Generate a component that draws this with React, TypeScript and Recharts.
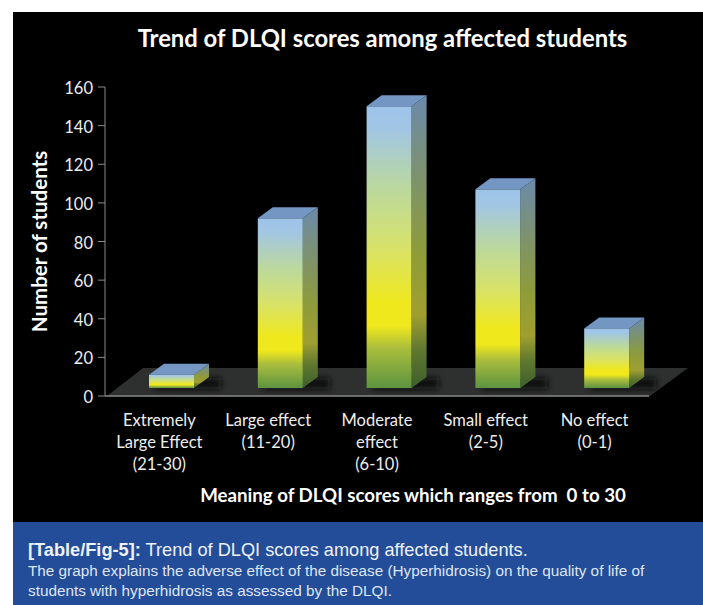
import React from 'react';
import { BarChart, Bar, XAxis, YAxis, ReferenceArea, Label } from 'recharts';

const categories = ['Extremely|Large Effect|(21-30)', 'Large effect|(11-20)', 'Moderate|effect|(6-10)', 'Small effect|(2-5)', 'No effect|(0-1)'];
const students = [11, 92, 150, 107, 35];
const yTicks = [0, 20, 40, 60, 80, 100, 120, 140, 160];
const title = 'Trend of DLQI scores among affected students';
const xTitle = 'Meaning of DLQI scores which ranges from \u00a00 to 30';
const yTitle = 'Number of students';

const data = categories.map((c, i) => ({ category: c, students: students[i] }));
const FONT = 'Lato, "Open Sans", sans-serif';

const DX = 15, DY = 11, LIFT = 8, SHIFT = 12;

const Bar3D = (props: any) => {
  const { x, y, width, height } = props;
  const l = x + SHIFT, r = l + width, b = y + height - LIFT;
  return (
    <g>
      <path d={`M${l + 6} ${b + 1} H${r + DX + 12} V${b - DY + 1} H${l + 6} Z`} fill="#101010" filter="url(#soft)" />
      <polygon points={`${r},${y} ${r + DX},${y - DY} ${r + DX},${b - DY} ${r},${b}`} fill="url(#sideGrad)" />
      <polygon points={`${l},${y} ${l + DX},${y - DY} ${r + DX},${y - DY} ${r},${y}`} fill="#7396c3" />
      <rect x={l} y={y} width={width} height={b - y} fill="url(#frontGrad)" />
    </g>
  );
};

const Floor = (props: any) => {
  const { x, y, width, height } = props;
  return (
    <polygon
      points={`${x + 2},${y + height} ${x + 38},${y} ${x + width + 39},${y} ${x + width + 1},${y + height}`}
      fill="#2e2f2f"
    />
  );
};

const CategoryTick = (props: any) => {
  const { x, y, payload } = props;
  const lines = String(payload.value).split('|');
  return (
    <text x={x} y={y} textAnchor="middle" fill="#eeeeee" fontFamily={FONT} fontSize={16.5}>
      {lines.map((t: string, i: number) => (
        <tspan key={i} x={x} dy={22}>{t}</tspan>
      ))}
    </text>
  );
};

const ValueTick = (props: any) => {
  const { x, y, payload } = props;
  return (
    <text x={x} y={y + 7} textAnchor="end" fill="#eeeeee" fontFamily={FONT} fontSize={16.5}>
      {payload.value}
    </text>
  );
};

export default function App() {
  return (
    <div style={{ position: 'absolute', left: 0, top: 0, width: 703, height: 605, background: '#fff', overflow: 'hidden' }}>
      <div style={{ position: 'absolute', left: 13, top: 12, width: 690, height: 510, background: '#000' }} />
      <div style={{ position: 'absolute', left: 13, top: 522, width: 690, height: 83, background: '#234c99' }} />
      <div style={{ position: 'absolute', left: 13, width: 739, top: 24, textAlign: 'center', color: '#fff', fontFamily: FONT, fontWeight: 700, fontSize: 23.8, lineHeight: '28px', whiteSpace: 'nowrap' }}>
        {title}
      </div>
      <div style={{ position: 'absolute', left: 0, top: 0 }}>
        <BarChart width={703} height={605} data={data} margin={{ top: 87, right: 54, bottom: 109, left: 45 }}>
          <defs>
            <linearGradient id="frontGrad" x1="0" y1="0" x2="0" y2="1">
              <stop offset="0" stopColor="#9dc3ea" />
              <stop offset="0.08" stopColor="#a2c6e4" />
              <stop offset="0.3" stopColor="#bcd99b" />
              <stop offset="0.5" stopColor="#d8e26a" />
              <stop offset="0.7" stopColor="#efe81c" />
              <stop offset="0.78" stopColor="#efe81c" />
              <stop offset="0.86" stopColor="#a9bd3d" />
              <stop offset="1" stopColor="#5d9340" />
            </linearGradient>
            <linearGradient id="sideGrad" x1="0" y1="0" x2="0" y2="1">
              <stop offset="0" stopColor="#6a8aac" />
              <stop offset="0.3" stopColor="#7f9368" />
              <stop offset="0.55" stopColor="#8f9c38" />
              <stop offset="0.75" stopColor="#a09f30" />
              <stop offset="0.87" stopColor="#60782f" />
              <stop offset="1" stopColor="#3c5f2c" />
            </linearGradient>
            <filter id="soft" x="-30%" y="-80%" width="160%" height="260%">
              <feGaussianBlur stdDeviation="3" />
            </filter>
          </defs>
          <ReferenceArea y1={0} y2={14.5} shape={<Floor />} ifOverflow="visible" />
          <XAxis
            dataKey="category"
            interval={0}
            height={100}
            tick={<CategoryTick />}
            tickLine={false}
            axisLine={{ stroke: '#8a8a8a', strokeWidth: 1.5 }}
          >
            <Label
              value={xTitle}
              position="insideBottom"
              offset={-6}
              dx={36}
              style={{ fill: '#fff', fontFamily: FONT, fontWeight: 700, fontSize: 18.7 }}
            />
          </XAxis>
          <YAxis
            width={60}
            domain={[0, 160]}
            ticks={yTicks}
            tickSize={7}
            tickMargin={5}
            interval={0}
            stroke="#8a8a8a"
            tick={<ValueTick />}
          >
            <Label
              value={yTitle}
              angle={-90}
              position="insideLeft"
              offset={-5}
              style={{ fill: '#fff', fontFamily: FONT, fontWeight: 700, fontSize: 20.5, textAnchor: 'middle' }}
            />
          </YAxis>
          <Bar dataKey="students" barSize={45} isAnimationActive={false} shape={<Bar3D />} />
        </BarChart>
      </div>
      <div style={{ position: 'absolute', left: 28, top: 540, width: 670, color: '#eef2fa', fontFamily: '"Liberation Sans", Arial, sans-serif' }}>
        <div style={{ fontSize: 18.2, lineHeight: '20px', whiteSpace: 'nowrap' }}><b>[Table/Fig-5]:</b> Trend of DLQI scores among affected students.</div>
        <div style={{ fontSize: 15.3, lineHeight: '19.5px', marginTop: 1, color: '#dfe6f4' }}>
          <div style={{ whiteSpace: 'nowrap' }}>The graph explains the adverse effect of the disease (Hyperhidrosis) on the quality of life of</div>
          <div style={{ whiteSpace: 'nowrap' }}>students with hyperhidrosis as assessed by the DLQI.</div>
        </div>
      </div>
    </div>
  );
}
